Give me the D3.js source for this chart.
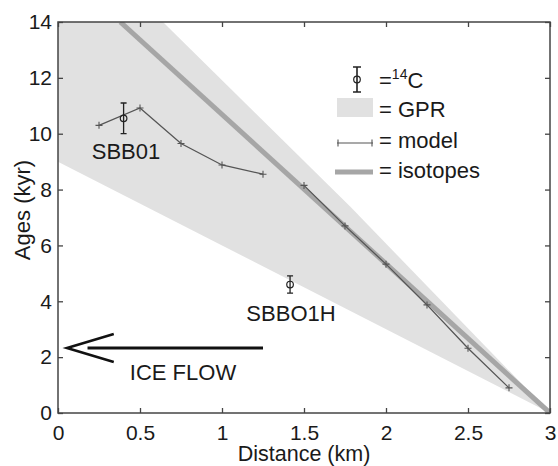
<!DOCTYPE html>
<html><head><meta charset="utf-8">
<script src="https://cdn.jsdelivr.net/npm/d3@7"></script>
<style>body{margin:0;background:#fff}svg{display:block}text{font-family:"Liberation Sans",Arial,sans-serif;fill:#1a1a1a}</style>
</head><body><svg id="c" width="558" height="466"></svg>
<script>
// ---- data ----
const xTicks = [0, 0.5, 1, 1.5, 2, 2.5, 3];
const yTicks = [0, 2, 4, 6, 8, 10, 12, 14];
const gprX = [0, 0.64, 1.78, 3, 0];
const gprAge = [14, 14, 7.4, 0, 9];
const isoX = [0.38, 3];
const isoAge = [14, 0];
const model1X = [0.25, 0.5, 0.75, 1.0, 1.25];
const model1Age = [10.3, 10.92, 9.65, 8.88, 8.55];
const model2X = [1.5, 1.75, 2.0, 2.25, 2.5, 2.75];
const model2Age = [8.15, 6.7, 5.33, 3.87, 2.32, 0.9];
const c14Names = ["SBB01", "SBBO1H"];
const c14X = [0.4, 1.415];
const c14Age = [10.55, 4.6];
const c14Err = [0.55, 0.31];
const arrowX = [0.055, 1.25];
const arrowAge = [2.33, 2.33];

const W = 558, H = 466, m = {l: 58, r: 8, t: 22, b: 53};
const FS = 22, TFS = 21;
const svg = d3.select("#c");
const x = d3.scaleLinear().domain([0, 3]).range([m.l, W - m.r]);
const y = d3.scaleLinear().domain([0, 14]).range([H - m.b, m.t]);

svg.append("clipPath").attr("id", "clip").append("rect")
  .attr("x", m.l).attr("y", m.t).attr("width", W - m.l - m.r).attr("height", H - m.t - m.b);
const g = svg.append("g").attr("clip-path", "url(#clip)");

// GPR band
g.append("path").datum(gprX.map((d, i) => [d, gprAge[i]]))
  .attr("d", d3.line().x(d => x(d[0])).y(d => y(d[1])))
  .attr("fill", "#e1e1e1").attr("stroke", "none");

// isotopes
g.append("path").datum(isoX.map((d, i) => [d, isoAge[i]]))
  .attr("d", d3.line().x(d => x(d[0])).y(d => y(d[1])))
  .attr("stroke", "#a6a6a6").attr("stroke-width", 5).attr("fill", "none");

// model
function modelSeg(xs, ys) {
  const pts = xs.map((d, i) => [d, ys[i]]);
  g.append("path").datum(pts)
    .attr("d", d3.line().x(d => x(d[0])).y(d => y(d[1])))
    .attr("stroke", "#555").attr("stroke-width", 1.3).attr("fill", "none");
  g.selectAll(null).data(pts).enter().append("path")
    .attr("d", d => `M${x(d[0]) - 3.5},${y(d[1])}h7M${x(d[0])},${y(d[1]) - 3.5}v7`)
    .attr("stroke", "#555").attr("stroke-width", 1.1);
}
modelSeg(model1X, model1Age);
modelSeg(model2X, model2Age);

// 14C error bars
c14X.forEach((d, i) => {
  const cx = x(d), y0 = y(c14Age[i] - c14Err[i]), y1 = y(c14Age[i] + c14Err[i]);
  g.append("path").attr("d", `M${cx},${y0}V${y1}M${cx - 3},${y0}h6M${cx - 3},${y1}h6`)
    .attr("stroke", "#222").attr("stroke-width", 1.3).attr("fill", "none");
  g.append("circle").attr("cx", cx).attr("cy", y(c14Age[i])).attr("r", 3.3)
    .attr("fill", "none").attr("stroke", "#222").attr("stroke-width", 1.2);
});
svg.append("text").attr("x", 126).attr("y", 159).attr("text-anchor", "middle")
  .attr("font-size", FS).text(c14Names[0]);
svg.append("text").attr("x", 291).attr("y", 321).attr("text-anchor", "middle")
  .attr("font-size", FS).text(c14Names[1]);

// ICE FLOW arrow
const ay = y(arrowAge[0]), tip = x(arrowX[0]);
svg.append("path").attr("d", `M${x(0.18)},${ay}H${x(arrowX[1])}`)
  .attr("stroke", "#111").attr("stroke-width", 3).attr("fill", "none");
svg.append("path").attr("d", `M${x(0.34)},${ay - 14}L${tip},${ay}L${x(0.34)},${ay + 14}`)
  .attr("stroke", "#111").attr("stroke-width", 2.6).attr("fill", "none").attr("stroke-linejoin", "miter");
svg.append("text").attr("x", 183).attr("y", 380).attr("text-anchor", "middle")
  .attr("font-size", FS).text("ICE FLOW");

// legend
const L = svg.append("g");
L.append("path").attr("d", "M357,67V92M353,67h8M353,92h8").attr("stroke", "#222").attr("stroke-width", 1.6).attr("fill", "none");
L.append("circle").attr("cx", 357).attr("cy", 79.5).attr("r", 3.3).attr("fill", "none").attr("stroke", "#222").attr("stroke-width", 1.2);
const t14 = L.append("text").attr("x", 379).attr("y", 88).attr("font-size", FS);
t14.append("tspan").text("=");
t14.append("tspan").attr("font-size", 14).attr("dy", -9).text("14");
t14.append("tspan").attr("dy", 9).text("C");
L.append("rect").attr("x", 337).attr("y", 98).attr("width", 36).attr("height", 19).attr("fill", "#e1e1e1");
L.append("text").attr("x", 379).attr("y", 117).attr("font-size", FS).text("= GPR");
L.append("path").attr("d", "M337,143H373").attr("stroke", "#555").attr("stroke-width", 1.2);
L.append("path").attr("d", "M338,139.5v7M372,139.5v7").attr("stroke", "#555").attr("stroke-width", 1.1);
L.append("text").attr("x", 379).attr("y", 148).attr("font-size", FS).text("= model");
L.append("path").attr("d", "M335,172H373").attr("stroke", "#a6a6a6").attr("stroke-width", 5);
L.append("text").attr("x", 379).attr("y", 178).attr("font-size", FS).text("= isotopes");

// axes box
const ax = svg.append("g");
ax.append("rect").attr("x", m.l).attr("y", m.t).attr("width", W - m.l - m.r).attr("height", H - m.t - m.b)
  .attr("fill", "none").attr("stroke", "#444").attr("stroke-width", 1.5);
const xAxB = d3.axisBottom(x).tickValues(xTicks).tickSize(-5).tickPadding(12).tickFormat(d3.format("~g"));
const xAxT = d3.axisTop(x).tickValues(xTicks).tickSize(-5).tickFormat("");
const yAxL = d3.axisLeft(y).tickValues(yTicks).tickSize(-5).tickPadding(6).tickFormat(d3.format("~g"));
const yAxR = d3.axisRight(y).tickValues(yTicks).tickSize(-5).tickFormat("");
function style(sel) {
  sel.select(".domain").remove();
  sel.selectAll(".tick line").attr("stroke", "#444").attr("stroke-width", 1.3);
  sel.selectAll(".tick text").attr("font-size", TFS).attr("fill", "#1a1a1a").attr("font-family", "Liberation Sans, Arial, sans-serif");
}
ax.append("g").attr("transform", `translate(0,${H - m.b})`).call(xAxB).call(style);
ax.append("g").attr("transform", `translate(0,${m.t})`).call(xAxT).call(style);
ax.append("g").attr("transform", `translate(${m.l},0)`).call(yAxL).call(style);
ax.append("g").attr("transform", `translate(${W - m.r},0)`).call(yAxR).call(style);

svg.append("text").attr("x", 304).attr("y", 461).attr("text-anchor", "middle").attr("font-size", 21.5).text("Distance (km)");
svg.append("text").attr("transform", "translate(30,210) rotate(-90)").attr("text-anchor", "middle").attr("font-size", FS).text("Ages (kyr)");
</script></body></html>
